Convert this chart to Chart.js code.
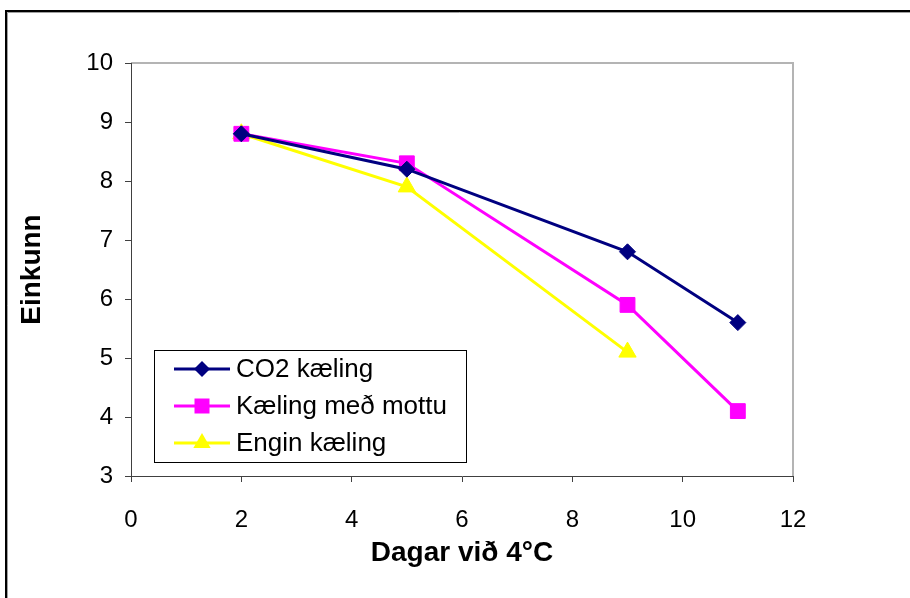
<!DOCTYPE html>
<html>
<head>
<meta charset="utf-8">
<script src="https://cdn.jsdelivr.net/npm/chart.js@4/dist/chart.umd.min.js"></script>
<style>
  html, body { margin: 0; padding: 0; background: #fff; }
  #wrap { width: 910px; height: 598px; }
</style>
</head>
<body>
<div id="wrap"><canvas id="line-chart" width="910" height="598"></canvas></div>
<script>
// days at 4°C and scores for each cooling method
var days = [2, 5, 9, 11];
var co2Kaeling = [8.8, 8.2, 6.8, 5.6];
var mottuKaeling = [8.8, 8.3, 5.9, 4.1];
var enginKaeling = [8.8, 7.9, 5.1];
var xTicks = [0, 2, 4, 6, 8, 10, 12];
var yTicks = [3, 4, 5, 6, 7, 8, 9, 10];

var FONT = "'Liberation Sans', Arial, sans-serif";

function points(ys){
  var out = [];
  for (var i = 0; i < ys.length; i++) out.push({x: days[i], y: ys[i]});
  return out;
}

// frame around the whole figure + grey top/right edge of the plot area
var framePlugin = {
  id: 'frame',
  beforeDraw: function(chart){
    var ctx = chart.ctx;
    ctx.save();
    ctx.fillStyle = '#fff';
    ctx.fillRect(0, 0, chart.width, chart.height);
    ctx.strokeStyle = '#000';
    ctx.lineWidth = 2;
    ctx.beginPath();
    ctx.moveTo(6, chart.height + 5);
    ctx.lineTo(6, 11);
    ctx.lineTo(chart.width + 5, 11);
    ctx.stroke();
    ctx.strokeStyle = '#a0a0a0';
    ctx.lineWidth = 1;
    ctx.beginPath();
    ctx.moveTo(7.5, chart.height + 5);
    ctx.lineTo(7.5, 12.5);
    ctx.lineTo(chart.width + 5, 12.5);
    ctx.stroke();

    var a = chart.chartArea;
    ctx.strokeStyle = '#b4b4b4';
    ctx.lineWidth = 2;
    ctx.beginPath();
    ctx.moveTo(a.left, a.top);
    ctx.lineTo(a.right, a.top);
    ctx.lineTo(a.right, a.bottom);
    ctx.stroke();
    ctx.restore();
  }
};

function drawMarker(ctx, style, x, y, color){
  ctx.fillStyle = color;
  ctx.beginPath();
  if (style === 'rectRot') {
    var r = 8;
    ctx.moveTo(x, y - r); ctx.lineTo(x + r, y); ctx.lineTo(x, y + r); ctx.lineTo(x - r, y);
  } else if (style === 'rect') {
    var s = 7.5;
    ctx.rect(x - s, y - s, 2 * s, 2 * s);
  } else {
    var t = 10;
    ctx.moveTo(x, y - t);
    ctx.lineTo(x + t * Math.sin(Math.PI / 3), y + t / 2);
    ctx.lineTo(x - t * Math.sin(Math.PI / 3), y + t / 2);
  }
  ctx.closePath();
  ctx.fill();
}

// boxed legend sitting inside the plot area
var legendBox = {
  id: 'legendBox',
  afterDatasetsDraw: function(chart){
    var ctx = chart.ctx;
    var bx = 154, by = 350, bw = 312, bh = 112;
    ctx.save();
    ctx.fillStyle = '#fff';
    ctx.fillRect(bx, by, bw, bh);
    ctx.strokeStyle = '#000';
    ctx.lineWidth = 1;
    ctx.strokeRect(bx + 0.5, by + 0.5, bw, bh);
    ctx.font = '26px ' + FONT;
    ctx.textBaseline = 'middle';
    ctx.textAlign = 'left';
    var sets = chart.data.datasets;
    for (var i = 0; i < sets.length; i++) {
      var y = by + 19 + i * 37;
      ctx.strokeStyle = sets[i].borderColor;
      ctx.lineWidth = 3;
      ctx.beginPath();
      ctx.moveTo(174, y);
      ctx.lineTo(230, y);
      ctx.stroke();
      drawMarker(ctx, sets[i].pointStyle, 202, y, sets[i].pointBackgroundColor);
      ctx.fillStyle = '#000';
      ctx.fillText(sets[i].label, 236, y + 1);
    }
    ctx.restore();
  }
};

new Chart(document.getElementById('line-chart'), {
  type: 'line',
  data: {
    datasets: [{
        label: 'CO2 kæling',
        data: points(co2Kaeling),
        borderColor: '#000080',
        pointBackgroundColor: '#000080',
        pointBorderColor: '#000080',
        pointStyle: 'rectRot',
        pointRadius: 8
      }, {
        label: 'Kæling með mottu',
        data: points(mottuKaeling),
        borderColor: '#ff00ff',
        pointBackgroundColor: '#ff00ff',
        pointBorderColor: '#ff00ff',
        pointStyle: 'rect',
        pointRadius: 10.5
      }, {
        label: 'Engin kæling',
        data: points(enginKaeling),
        borderColor: '#ffff00',
        pointBackgroundColor: '#ffff00',
        pointBorderColor: '#ffff00',
        pointStyle: 'triangle',
        pointRadius: 10
      }
    ]
  },
  plugins: [framePlugin, legendBox],
  options: {
    responsive: false,
    animation: false,
    clip: false,
    elements: {
      line: { borderWidth: 3, tension: 0, fill: false },
      point: { borderWidth: 1, hoverRadius: 8 }
    },
    layout: { padding: { left: 0, top: 63, right: 117, bottom: 0 } },
    plugins: {
      legend: { display: false },
      tooltip: { enabled: false }
    },
    scales: {
      x: {
        type: 'linear',
        min: 0, max: 12,
        afterFit: function(s){ s.height = 122; },
        afterBuildTicks: function(s){ s.ticks = xTicks.map(function(v){ return {value: v}; }); },
        grid: { drawOnChartArea: false, tickLength: 6, tickColor: '#404040', tickWidth: 1 },
        border: { color: '#404040', width: 1 },
        ticks: { color: '#000', padding: 24, font: { family: FONT, size: 24 }, maxRotation: 0 },
        title: { display: true, text: 'Dagar við 4°C', color: '#000', padding: { bottom: 28 },
                 font: { family: FONT, size: 28, weight: 'bold' } }
      },
      y: {
        type: 'linear',
        min: 3, max: 10,
        afterFit: function(s){ s.width = 131; },
        afterBuildTicks: function(s){ s.ticks = yTicks.map(function(v){ return {value: v}; }); },
        grid: { drawOnChartArea: false, tickLength: 6, tickColor: '#404040', tickWidth: 1 },
        border: { color: '#404040', width: 1 },
        ticks: { color: '#000', padding: 12, font: { family: FONT, size: 24 } },
        title: { display: true, text: 'Einkunn', color: '#000', padding: { top: 15 },
                 font: { family: FONT, size: 28, weight: 'bold' } }
      }
    }
  }
});
</script>
</body>
</html>
